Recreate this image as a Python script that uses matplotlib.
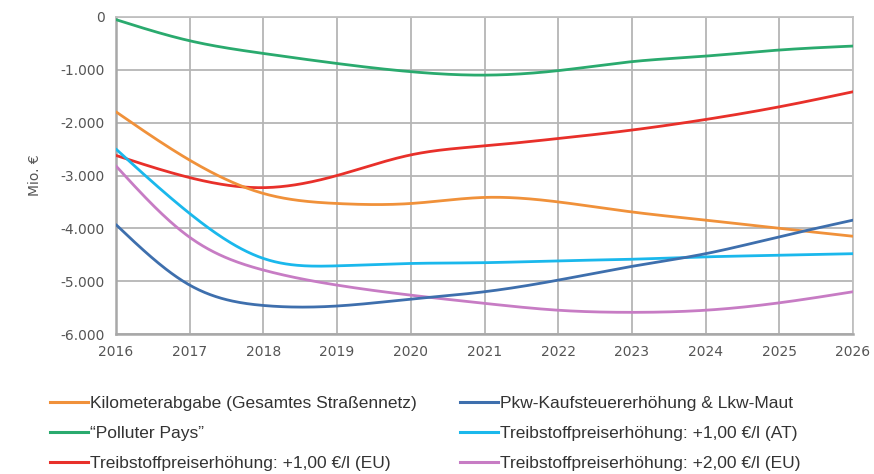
import numpy as np
import matplotlib
matplotlib.use("Agg")
import matplotlib.pyplot as plt
from matplotlib.lines import Line2D

years = [2016, 2017, 2018, 2019, 2020, 2021, 2022, 2023, 2024, 2025, 2026]
kilometerabgabe = [-1795, -2710, -3340, -3530, -3530, -3415, -3500, -3690, -3845, -4000, -4150]
polluter_pays = [-50, -450, -690, -880, -1035, -1100, -1015, -845, -740, -625, -550]
treibstoff_eu_1 = [-2620, -3040, -3230, -3000, -2610, -2440, -2300, -2140, -1940, -1700, -1415]
pkw_lkw = [-3930, -5075, -5460, -5470, -5340, -5200, -4980, -4720, -4480, -4160, -3845]
treibstoff_at_1 = [-2500, -3720, -4570, -4710, -4665, -4650, -4615, -4585, -4540, -4510, -4480]
treibstoff_eu_2 = [-2820, -4170, -4790, -5075, -5265, -5420, -5550, -5590, -5550, -5410, -5200]

labels = [
    "Kilometerabgabe (Gesamtes Straßennetz)",
    "\u201cPolluter Pays\u201d",
    "Treibstoffpreiserhöhung: +1,00 €/l (EU)",
    "Pkw-Kaufsteuererhöhung & Lkw-Maut",
    "Treibstoffpreiserhöhung: +1,00 €/l (AT)",
    "Treibstoffpreiserhöhung: +2,00 €/l (EU)",
]
series = [kilometerabgabe, polluter_pays, treibstoff_eu_1, pkw_lkw, treibstoff_at_1, treibstoff_eu_2]
colors = ["#f0913a", "#2aaa6e", "#e8302a", "#3e6fad", "#1ab8ec", "#c77cc4"]
yticks = [0, -1000, -2000, -3000, -4000, -5000, -6000]
ytick_labels = ["0", "-1.000", "-2.000", "-3.000", "-4.000", "-5.000", "-6.000"]


def natural_spline(x, y, n=400):
    x = np.asarray(x, float)
    y = np.asarray(y, float)
    m = len(x)
    h = np.diff(x)
    A = np.zeros((m, m))
    b = np.zeros(m)
    A[0, 0] = 1
    A[-1, -1] = 1
    for i in range(1, m - 1):
        A[i, i - 1] = h[i - 1]
        A[i, i] = 2 * (h[i - 1] + h[i])
        A[i, i + 1] = h[i]
        b[i] = 3 * ((y[i + 1] - y[i]) / h[i] - (y[i] - y[i - 1]) / h[i - 1])
    c = np.linalg.solve(A, b)
    xs = np.linspace(x[0], x[-1], n)
    ys = np.empty_like(xs)
    for k, xv in enumerate(xs):
        i = min(np.searchsorted(x, xv, side="right") - 1, m - 2)
        dx = xv - x[i]
        bi = (y[i + 1] - y[i]) / h[i] - h[i] * (2 * c[i] + c[i + 1]) / 3
        di = (c[i + 1] - c[i]) / (3 * h[i])
        ys[k] = y[i] + bi * dx + c[i] * dx ** 2 + di * dx ** 3
    return xs, ys


plt.rcParams['font.family'] = ['DejaVu Sans']
fig = plt.figure(figsize=(8.74, 4.74), dpi=100)
ax = fig.add_axes([116 / 874, 1 - 334 / 474, (853 - 116) / 874, (334 - 17) / 474])

order = [1, 2, 0, 4, 5, 3]
for i in order:
    xs, ys = natural_spline(years, series[i])
    ax.plot(xs, ys, color=colors[i], lw=2.0, solid_capstyle="round", zorder=3)

ax.set_xlim(2016, 2026)
ax.set_ylim(-6000, 0)
ax.set_xticks(years)
ax.set_xticklabels([str(y) for y in years], fontsize=10, color="#555555")
ax.set_yticks(yticks)
ax.set_yticklabels(ytick_labels, fontsize=10, color="#555555")
ax.grid(True, color="#b5b5b5", lw=1.3)
ax.tick_params(length=0, pad=8)
for s in ["top", "right"]:
    ax.spines[s].set_color("#c0c0c0")
    ax.spines[s].set_linewidth(1.3)
for s in ["left", "bottom"]:
    ax.spines[s].set_color("#a8a8a8")
    ax.spines[s].set_linewidth(1.8)
ax.set_axisbelow(True)

fig.text(35 / 874, 1 - 175 / 474, "Mio. €", rotation=90, ha="center", va="center",
         fontsize=10, color="#555555")

handles = [Line2D([0], [0], color=c, lw=2.2) for c in colors]
leg = fig.legend(handles, labels, loc="upper left", bbox_to_anchor=(34 / 874, 1 - 380 / 474),
                 ncol=2, frameon=False, handlelength=2.2, handletextpad=0.1,
                 columnspacing=2.5, labelspacing=0.86,
                 prop={'family': ['Liberation Sans Narrow', 'Liberation Sans', 'DejaVu Sans'], 'size': 12.5})
for t in leg.get_texts():
    t.set_color("#333333")

fig.savefig("out.png", dpi=100, facecolor="white")
